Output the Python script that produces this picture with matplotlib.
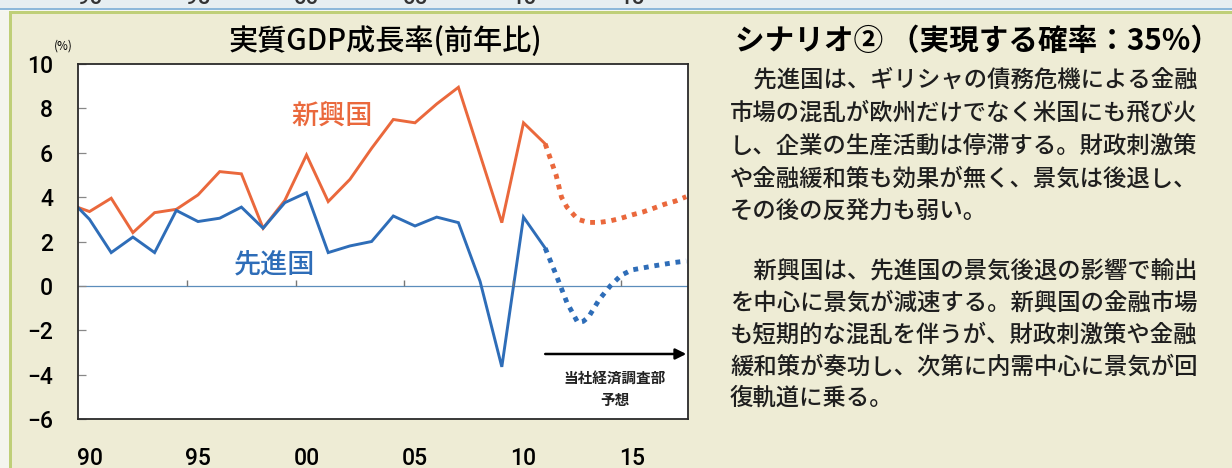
import numpy as np
import matplotlib
matplotlib.use("Agg")
import matplotlib.pyplot as plt
from matplotlib.patches import Rectangle
from matplotlib.transforms import blended_transform_factory

plt.rcParams["font.family"] = ["Noto Sans CJK JP", "DejaVu Sans"]

# ── data ─────────────────────────────────────────────────────────────────────
years = list(range(1989, 2012))
emerging = [3.7, 3.35, 3.95, 2.4, 3.3, 3.45, 4.1, 5.15, 5.05, 2.6, 3.85, 5.9,
            3.8, 4.8, 6.2, 7.5, 7.35, 8.2, 8.95, 5.9, 2.85, 7.35, 6.4]
advanced = [4.0, 3.0, 1.5, 2.2, 1.5, 3.4, 2.9, 3.05, 3.55, 2.6, 3.75, 4.2,
            1.5, 1.8, 2.0, 3.15, 2.7, 3.1, 2.85, 0.2, -3.65, 3.1, 1.7]

# forecast (dotted, smoothed in the original)
fc_years_em = [2011, 2011.5, 2011.75, 2012, 2012.5, 2013, 2013.5, 2014, 2014.5,
               2015, 2015.5, 2016, 2016.5, 2017, 2017.5]
fc_emerging = [6.4, 5.0, 4.0, 3.55, 3.0, 2.86, 2.86, 2.93, 3.05,
               3.2, 3.33, 3.5, 3.68, 3.82, 4.02]
fc_years_adv = [2011, 2011.5, 2012, 2012.5, 2012.75, 2013, 2013.5, 2014, 2014.5,
                2015, 2015.5, 2016, 2016.5, 2017, 2017.5]
fc_advanced = [1.7, 0.5, -0.75, -1.65, -1.6, -1.4, -0.6, 0.0, 0.48,
               0.72, 0.81, 0.9, 0.98, 1.06, 1.12]

xtick_years = [1990, 1995, 2000, 2005, 2010, 2015]
xtick_labels = ["90", "95", "00", "05", "10", "15"]
yticks = [-6, -4, -2, 0, 2, 4, 6, 8, 10]

chart_title = "実質GDP成長率(前年比)"
scenario_title = "シナリオ② （実現する確率：35%）"
para1 = ["\u3000先進国は、ギリシャの債務危機による金融",
         "市場の混乱が欧州だけでなく米国にも飛び火",
         "し、企業の生産活動は停滞する。財政刺激策",
         "や金融緩和策も効果が無く、景気は後退し、",
         "その後の反発力も弱い。"]
para2 = ["\u3000新興国は、先進国の景気後退の影響で輸出",
         "を中心に景気が減速する。新興国の金融市場",
         "も短期的な混乱を伴うが、財政刺激策や金融",
         "緩和策が奏功し、次第に内需中心に景気が回",
         "復軌道に乗る。"]

# ── styling ─────────────────────────────────────────────────────────────────
CREAM = "#EEECD5"
ORANGE = "#EA683C"
BLUE = "#2E6DB8"
NUM_FONT = ["Roboto", "Liberation Sans"]
W, H = 1232, 468

fig = plt.figure(figsize=(W / 100, H / 100), dpi=100, facecolor=CREAM)

# page decorations: top strip of the previous chart, green frame lines
fig.add_artist(Rectangle((0, 1 - 9 / H), 1, 9 / H, transform=fig.transFigure,
                         facecolor="#E6EEF1", edgecolor="none", zorder=0))
fig.add_artist(Rectangle((0, 1 - 11 / H), 1, 2 / H, transform=fig.transFigure,
                         facecolor="#F6F7F2", edgecolor="none", zorder=0))
fig.add_artist(Rectangle((0, 1 - 9.5 / H), 1, 1.5 / H, transform=fig.transFigure,
                         facecolor="#8DB8DA", edgecolor="none", zorder=1))
fig.add_artist(Rectangle((0, 0), 9 / W, 1 - 11 / H, transform=fig.transFigure,
                         facecolor="#F4F5EE", edgecolor="none", zorder=0))
fig.add_artist(Rectangle((9 / W, 1 - 14 / H), 1, 3 / H, transform=fig.transFigure,
                         facecolor="#BFCF78", edgecolor="none", zorder=1))
fig.add_artist(Rectangle((9 / W, 0), 3 / W, 1 - 11 / H, transform=fig.transFigure,
                         facecolor="#BFCF78", edgecolor="none", zorder=1))

ax = fig.add_axes([78 / W, 1 - 419 / H, 610 / W, 355 / H])
ax.set_facecolor("white")

ax.plot(years, emerging, color=ORANGE, lw=2.1, solid_joinstyle="miter")
ax.plot(years, advanced, color=BLUE, lw=2.1, solid_joinstyle="miter")
ax.plot(fc_years_em, fc_emerging, color=ORANGE, lw=3.5, dashes=(1, 1.2),
        dash_capstyle="butt")
ax.plot(fc_years_adv, fc_advanced, color=BLUE, lw=3.5, dashes=(1, 1.2),
        dash_capstyle="butt")

ax.axhline(0, color="#5B8DBB", lw=0.9, zorder=1)
# little year-boundary ticks standing on the zero line
ax.vlines(np.array(xtick_years[1:]) - 0.5, 0, 0.25, color="#777777", lw=1.0)

ax.set_xlim(1989.47, 2017.58)
ax.set_ylim(-6, 10)

ax.set_yticks(yticks)
ax.set_yticklabels([str(v).replace("-", "\u2212") for v in yticks],
                   family=NUM_FONT, fontsize=16.5, fontweight="medium")
ax.tick_params(axis="y", direction="in", length=6, width=0.9, color="#888888",
               pad=18)
ax.set_xticks(xtick_years)
ax.set_xticklabels(xtick_labels, family=NUM_FONT, fontsize=16.5, fontweight="medium")
ax.tick_params(axis="x", length=0, pad=20)

for s in ax.spines.values():
    s.set_linewidth(1.3)
    s.set_color("#2A2A2A")

ax.text(2001.2, 7.65, "新興国", color=ORANGE, fontsize=19.5, fontweight="medium",
        ha="center", va="center")
ax.text(1998.5, 0.95, "先進国", color=BLUE, fontsize=19.5, fontweight="medium",
        ha="center", va="center")

ax.annotate("", xy=(2017.5, -3.07), xytext=(2011.0, -3.07),
            arrowprops=dict(arrowstyle="-|>", color="black", lw=1.8,
                            mutation_scale=16, shrinkA=0, shrinkB=0))
ax.text(2014.2, -4.65, "当社経済調査部\n予想", fontsize=10.5, fontweight="bold",
        ha="center", va="center", linespacing=1.45, color="#222222")

fig.text(385 / W, 1 - 42 / H, chart_title, fontsize=21, fontweight="medium",
         ha="center", va="center")
fig.text(63 / W, 1 - 46 / H, "(%)", fontsize=8.5, ha="center", va="center")

# cut-off digits of the chart above
blend = blended_transform_factory(ax.transData, fig.transFigure)
for yr, lab in zip(xtick_years, xtick_labels):
    ax.text(yr, 1 - 4 / H, lab, transform=blend, fontsize=16, fontweight="medium",
            family=NUM_FONT, ha="center", va="baseline",
            color="#333333", clip_on=False)

# right-hand text column
fig.text(735 / W, 1 - 41 / H, scenario_title, fontsize=21.3, fontweight="bold",
         ha="left", va="center")
for i, line in enumerate(para1):
    fig.text(730 / W, 1 - (80 + i * 33) / H, line, fontsize=16.8,
             fontweight="medium", ha="left", va="center", color="#1E1E1E")
for i, line in enumerate(para2):
    fig.text(730 / W, 1 - (272 + i * 31.6) / H, line, fontsize=16.8,
             fontweight="medium", ha="left", va="center", color="#1E1E1E")

fig.savefig("out.png", dpi=100, facecolor=CREAM)
